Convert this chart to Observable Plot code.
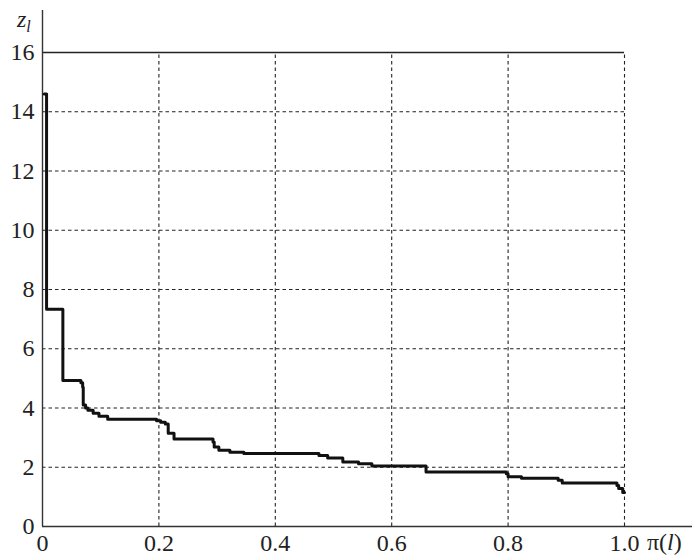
<!DOCTYPE html>
<html><head><meta charset="utf-8">
<script src="https://cdn.jsdelivr.net/npm/d3@7"></script>
<script src="https://cdn.jsdelivr.net/npm/@observablehq/plot@0.6"></script>
<style>body{margin:0;background:#fff} #chart svg{display:block}</style>
</head><body><div id="chart"></div>
<script>
// step starts: share pi(l) and value z_l
const stepX = [0.003, 0.007, 0.035, 0.066, 0.069, 0.070, 0.074, 0.078, 0.087, 0.097, 0.112,
  0.196, 0.203, 0.211, 0.216, 0.226, 0.293, 0.295, 0.303, 0.322, 0.346,
  0.475, 0.490, 0.516, 0.543, 0.566, 0.659, 0.797, 0.800, 0.823, 0.886, 0.893,
  0.987, 0.990, 0.997, 1.0];
const stepZ = [14.6, 7.33, 4.93, 4.85, 4.7, 4.1, 4.0, 3.92, 3.82, 3.72, 3.62,
  3.57, 3.52, 3.46, 3.15, 2.95, 2.85, 2.68, 2.57, 2.51, 2.46,
  2.40, 2.31, 2.18, 2.12, 2.04, 1.84, 1.78, 1.68, 1.63, 1.56, 1.47,
  1.38, 1.28, 1.15, 1.15];
const xTicks = [0, 0.2, 0.4, 0.6, 0.8, 1.0];
const xLabels = ["0", "0.2", "0.4", "0.6", "0.8", "1.0"];
const yTicks = [0, 2, 4, 6, 8, 10, 12, 14, 16];
const yLabels = ["0", "2", "4", "6", "8", "10", "12", "14", "16"];
const xGrid = [0.2, 0.4, 0.6, 0.8, 1.0];
const yGrid = [2, 4, 6, 8, 10, 12, 14];

const data = stepX.map((x, i) => ({x, z: stepZ[i]}));
const font = "Liberation Serif";

const chart = Plot.plot({
  width: 692, height: 557,
  marginLeft: 42, marginRight: 0, marginTop: 10, marginBottom: 31,
  style: {fontFamily: font, fontSize: "24px", background: "#fff", color: "#111"},
  x: {domain: [0, 650 / 582]},
  y: {domain: [0, 516 / 29.625]},
  marks: [
    Plot.ruleX(xGrid, {y1: 0, y2: 16, stroke: "#222", strokeWidth: 1.1, strokeDasharray: "3.5,3"}),
    Plot.ruleY(yGrid, {x1: 0, x2: 1, stroke: "#222", strokeWidth: 1.1, strokeDasharray: "3.5,3"}),
    Plot.ruleY([16], {x1: 0, x2: 1, stroke: "#222", strokeWidth: 1.3}),
    Plot.ruleX([0], {stroke: "#333", strokeWidth: 1.4}),
    Plot.ruleY([0], {stroke: "#333", strokeWidth: 1.4}),
    Plot.line(data, {x: "x", y: "z", curve: "step-after", stroke: "#111", strokeWidth: 3}),
    Plot.axisX(xTicks, {tickSize: 0, tickPadding: 7, fontSize: 24, fill: "#222", fontVariant: "normal",
      tickFormat: d => xLabels[xTicks.indexOf(d)], label: null}),
    Plot.axisY(yTicks, {tickSize: 0, tickPadding: 8, fontSize: 24, fill: "#222", fontVariant: "normal",
      tickFormat: d => yLabels[yTicks.indexOf(d)], label: null})
  ]
});
document.getElementById("chart").append(chart);

const svg = d3.select(chart);
const zl = svg.append("text").attr("x", 17).attr("y", 27).attr("text-anchor", "start")
  .attr("font-size", 24).attr("fill", "#222");
zl.append("tspan").attr("font-style", "italic").text("z");
zl.append("tspan").attr("font-style", "italic").attr("font-size", 16).attr("dy", 5).text("l");

const pl = svg.append("text").attr("x", 647).attr("y", 550).attr("text-anchor", "start")
  .attr("font-size", 24).attr("fill", "#222");
pl.append("tspan").text("π(");
pl.append("tspan").attr("font-style", "italic").text("l");
pl.append("tspan").text(")");

// force the serif face on every text, including the axis labels
svg.selectAll("g, text, tspan").each(function () {
  this.removeAttribute("font-family");
  this.removeAttribute("font-variant");
  this.style.setProperty("font-family", "'Liberation Serif'", "important");
  this.style.setProperty("font-variant", "normal", "important");
});
</script>
</body></html>
